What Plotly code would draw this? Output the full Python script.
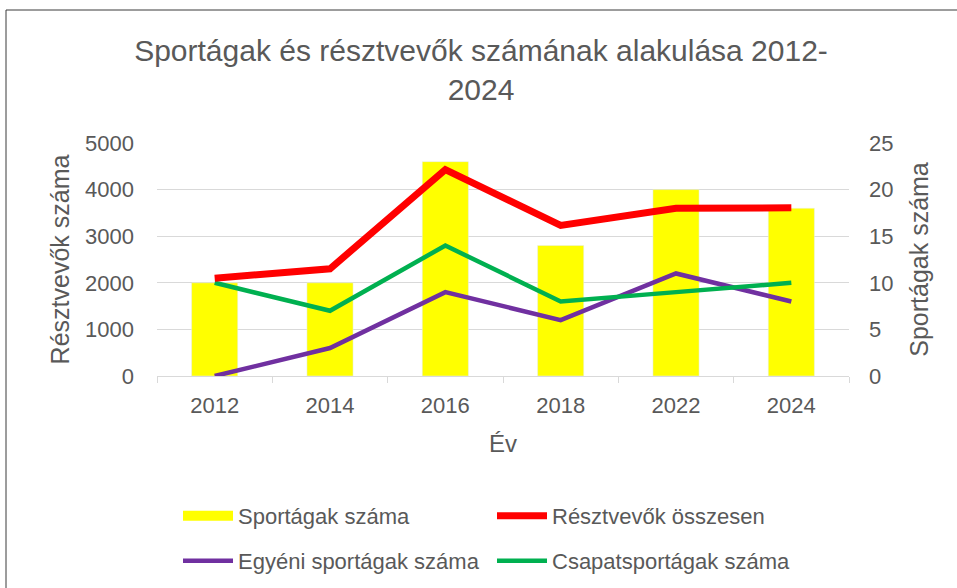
import plotly.graph_objects as go

years = ["2012", "2014", "2016", "2018", "2022", "2024"]
sportagak = [10, 10, 23, 14, 20, 18]
resztvevok = [2100, 2300, 4430, 3230, 3600, 3610]
egyeni = [0, 3, 9, 6, 11, 8]
csapat = [10, 7, 14, 8, 9, 10]

W, H = 957, 588
ML, MR, MT, MB = 157, 108, 143, 212
PW, PH = W - ML - MR, H - MT - MB

TXT = "#595959"
GRID = "#D9D9D9"
FONT = "Liberation Sans, Arial, sans-serif"


def px_x(p):
    # screen pixel -> paper x
    return (p - ML) / PW


def px_y(p):
    # screen pixel -> paper y
    return (H - MB - p) / PH


def cont_y(p):
    # screen pixel -> container y
    return (H - p) / H


fig = go.Figure()

# bars on the base (right) axis so every line is drawn over them
fig.add_trace(go.Bar(x=years, y=sportagak, name="Sportágak száma",
                     marker_color="#FFFF00", yaxis="y", showlegend=False,
                     hoverinfo="y"))
# legend stand-in for the bar (wide yellow band like Excel)
fig.add_trace(go.Scatter(x=years[:1], y=[None], mode="lines", name="Sportágak száma",
                         line=dict(color="#FFFF00", width=14), legend="legend",
                         legendrank=1, hoverinfo="skip"))
fig.add_trace(go.Scatter(x=years, y=egyeni, mode="lines", name="Egyéni sportágak száma",
                         line=dict(color="#7030A0", width=4.5), yaxis="y",
                         legend="legend2", legendrank=3))
fig.add_trace(go.Scatter(x=years, y=csapat, mode="lines", name="Csapatsportágak száma",
                         line=dict(color="#00B050", width=4.5), yaxis="y",
                         legend="legend2", legendrank=4))
fig.add_trace(go.Scatter(x=years, y=resztvevok, mode="lines", name="Résztvevők összesen",
                         line=dict(color="#FF0000", width=7), yaxis="y2",
                         legend="legend", legendrank=2))

legend_common = dict(orientation="h", x=px_x(178), xanchor="left", yref="container",
                     yanchor="middle", itemwidth=50, entrywidth=249,
                     font=dict(size=22, color=TXT), bgcolor="rgba(0,0,0,0)",
                     traceorder="normal")

fig.update_layout(
    width=W, height=H,
    margin=dict(l=ML, r=MR, t=MT, b=MB, autoexpand=False),
    paper_bgcolor="white", plot_bgcolor="white",
    font=dict(family=FONT, color=TXT, size=22),
    bargap=0.6,
    title=dict(text="Sportágak és résztvevők számának alakulása 2012-<br>2024",
               x=481 / W, xanchor="center", y=cont_y(61), yanchor="top",
               font=dict(size=30, color=TXT)),
    xaxis=dict(type="category", showline=True, linecolor=GRID, linewidth=1,
               ticks="outside", tickson="boundaries", ticklen=6, tickcolor=GRID,
               ticklabelstandoff=10, showgrid=False, automargin=False,
               title=dict(text="Év", standoff=17, font=dict(size=24))),
    yaxis=dict(side="right", range=[0, 25], dtick=5, showgrid=True, gridcolor=GRID,
               zeroline=False, ticks="", ticklabelstandoff=19, automargin=False,
               title=dict(text="Sportágak száma", standoff=18, font=dict(size=25))),
    yaxis2=dict(side="left", overlaying="y", range=[0, 5000], dtick=1000,
                showgrid=False, zeroline=False, ticks="", ticklabelstandoff=22,
                automargin=False,
                title=dict(text="Résztvevők száma", standoff=8, font=dict(size=25))),
    legend=dict(legend_common, y=cont_y(516)),
    legend2=dict(legend_common, y=cont_y(561)),
    shapes=[dict(type="rect", xref="paper", yref="paper",
                 x0=px_x(6), x1=px_x(W + 30), y0=px_y(H + 30), y1=px_y(10),
                 line=dict(color="#3A3A3A", width=1), fillcolor="rgba(0,0,0,0)",
                 layer="below")],
)

# drop the browser's default 8px body margin so the figure sits at the page corner
fig.write_html("out.html", config={"displayModeBar": False},
               post_script="document.body.style.margin='0';")
